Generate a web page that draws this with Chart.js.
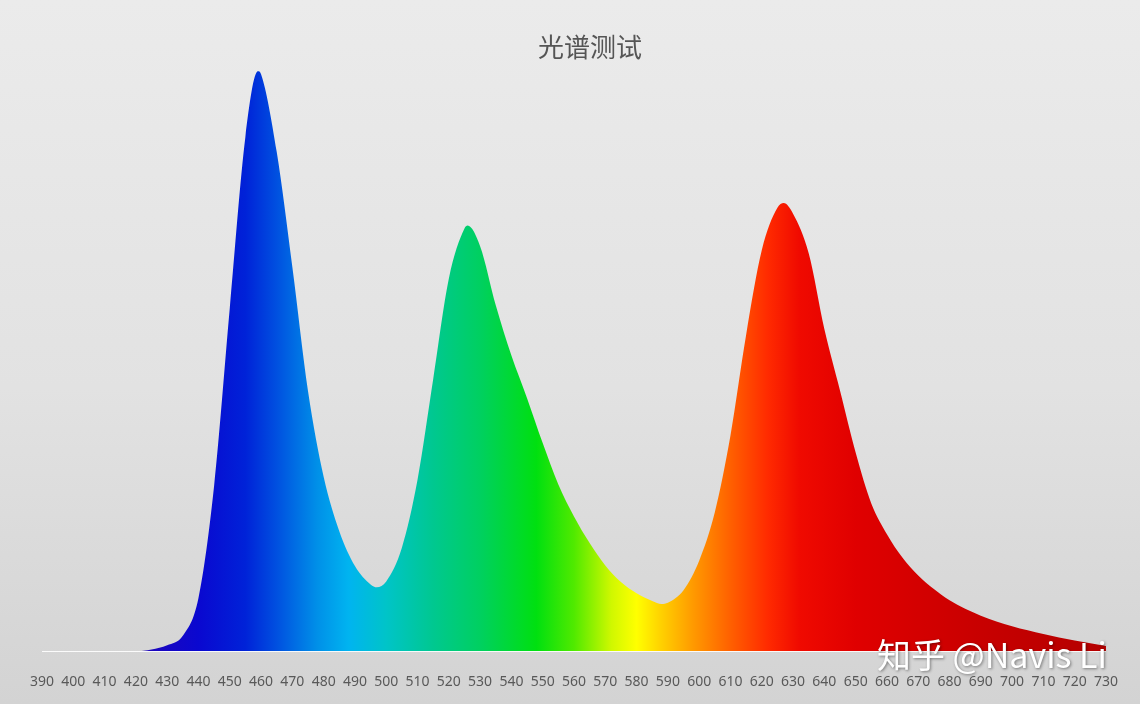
<!DOCTYPE html>
<html>
<head>
<meta charset="utf-8">
<script src="https://cdn.jsdelivr.net/npm/chart.js@4/dist/chart.umd.min.js"></script>
<style>
  html, body { margin: 0; padding: 0; }
  body {
    width: 1140px; height: 704px; overflow: hidden;
    background: linear-gradient(180deg, #ebebeb 0%, #e2e2e2 55%, #d3d3d3 100%);
  }
  #wrap { position: relative; width: 1140px; height: 704px; }
  #spectrum { display: block; }
</style>
</head>
<body>
<div id="wrap"><canvas id="spectrum" width="1140" height="704"></canvas></div>
<script>
// wavelength (nm) and relative intensity
var wavelength = [390, 400, 410, 420, 425, 430, 435, 440, 445, 450, 455, 459, 460, 465, 470, 475, 480, 485, 490, 495, 497,
                  500, 505, 510, 515, 520, 525, 526, 530, 535, 540, 545, 550, 555, 560, 565, 570, 575, 580, 585, 588,
                  590, 595, 600, 605, 610, 615, 620, 625, 627, 630, 635, 640, 645, 650, 655, 660, 665, 670, 675,
                  680, 690, 700, 710, 720, 730];
var intensity  = [0, 0, 0, 0, 0.3, 1.0, 2.6, 9, 28, 58, 87, 98.1, 97.6, 84.5, 65, 44, 29.5, 20.3, 14.4, 11.3, 10.8,
                  11.8, 17.5, 29, 46, 63, 71.5, 72, 68.5, 58.5, 50, 42.8, 35.2, 28.2, 22.8, 18.3, 14.5, 11.7, 9.8, 8.5, 8.0,
                  8.2, 10.3, 15.3, 23.5, 36.5, 53.5, 67.8, 75, 75.8, 74, 67.3, 54.5, 44.1, 33.6, 25, 19.8, 15.8, 12.8, 10.5,
                  8.6, 6.0, 4.2, 2.9, 1.8, 0.9];
var tickStart = 390, tickEnd = 730, tickStep = 10;

// colour of the fill along the wavelength axis
var spectrumStops = [
  [420, '#2206b8'], [440, '#0a08d0'], [455, '#0022d8'], [465, '#0050e0'], [478, '#0090e8'],
  [488, '#00b4f0'], [500, '#00c4c8'], [515, '#00c890'], [530, '#00d060'], [548, '#00e010'],
  [560, '#50ea00'], [572, '#d0f800'], [580, '#ffff00'], [588, '#ffd000'], [598, '#ff9a00'],
  [610, '#ff6000'], [622, '#ff2a00'], [632, '#f00a00'], [650, '#e00000'], [690, '#c80000'], [730, '#b40000']
];

var points = [];
for (var i = 0; i < wavelength.length; i++) {
  points.push({x: wavelength[i], y: intensity[i]});
}

function spectrumFill(context) {
  var chart = context.chart;
  if (!chart.chartArea) return '#0000ff';
  var xs = chart.scales.x;
  var x0 = xs.getPixelForValue(spectrumStops[0][0]);
  var x1 = xs.getPixelForValue(spectrumStops[spectrumStops.length - 1][0]);
  var g = chart.ctx.createLinearGradient(x0, 0, x1, 0);
  var span = spectrumStops[spectrumStops.length - 1][0] - spectrumStops[0][0];
  spectrumStops.forEach(function (s) {
    g.addColorStop((s[0] - spectrumStops[0][0]) / span, s[1]);
  });
  return g;
}

var overlayText = {
  id: 'overlayText',
  afterDraw: function (chart) {
    var ctx = chart.ctx;
    ctx.save();
    ctx.textAlign = 'center';
    ctx.textBaseline = 'middle';
    ctx.fillStyle = '#555555';
    ctx.font = '26px "Noto Sans CJK SC", sans-serif';
    ctx.fillText('光谱测试', 590, 47);

    ctx.textAlign = 'left';
    ctx.font = '34px "Noto Sans CJK SC", "Noto Sans", sans-serif';
    ctx.shadowColor = 'rgba(0,0,0,0.45)';
    ctx.shadowOffsetX = 1;
    ctx.shadowOffsetY = 1;
    ctx.shadowBlur = 3;
    ctx.fillStyle = '#ffffff';
    ctx.fillText('知乎 @Navis Li', 877, 655);
    ctx.restore();
  }
};

var ctx = document.getElementById('spectrum').getContext('2d');
var chart = new Chart(ctx, {
  type: 'line',
  data: {
    datasets: [{
      label: '光谱',
      data: points,
      fill: 'origin',
      backgroundColor: spectrumFill,
      borderWidth: 0,
      borderColor: 'rgba(0,0,0,0)',
      pointRadius: 0,
      cubicInterpolationMode: 'monotone'
    }]
  },
  options: {
    responsive: false,
    animation: false,
    devicePixelRatio: 1,
    layout: { padding: { left: 42, right: 34, top: 60, bottom: -8 } },
    plugins: {
      legend: { display: false },
      title: { display: false },
      tooltip: { enabled: false }
    },
    scales: {
      x: {
        type: 'linear',
        min: tickStart,
        max: tickEnd,
        grid: { display: false, drawTicks: false },
        border: { display: true, color: 'rgba(255,255,255,0.9)', width: 1 },
        ticks: {
          stepSize: tickStep,
          autoSkip: false,
          maxRotation: 0,
          padding: 22,
          color: '#595959',
          font: { family: '"Noto Sans", sans-serif', size: 14 },
          callback: function (v) { return String(v); }
        }
      },
      y: {
        display: false,
        min: 0,
        max: 100
      }
    }
  },
  plugins: [overlayText]
});
</script>
</body>
</html>
